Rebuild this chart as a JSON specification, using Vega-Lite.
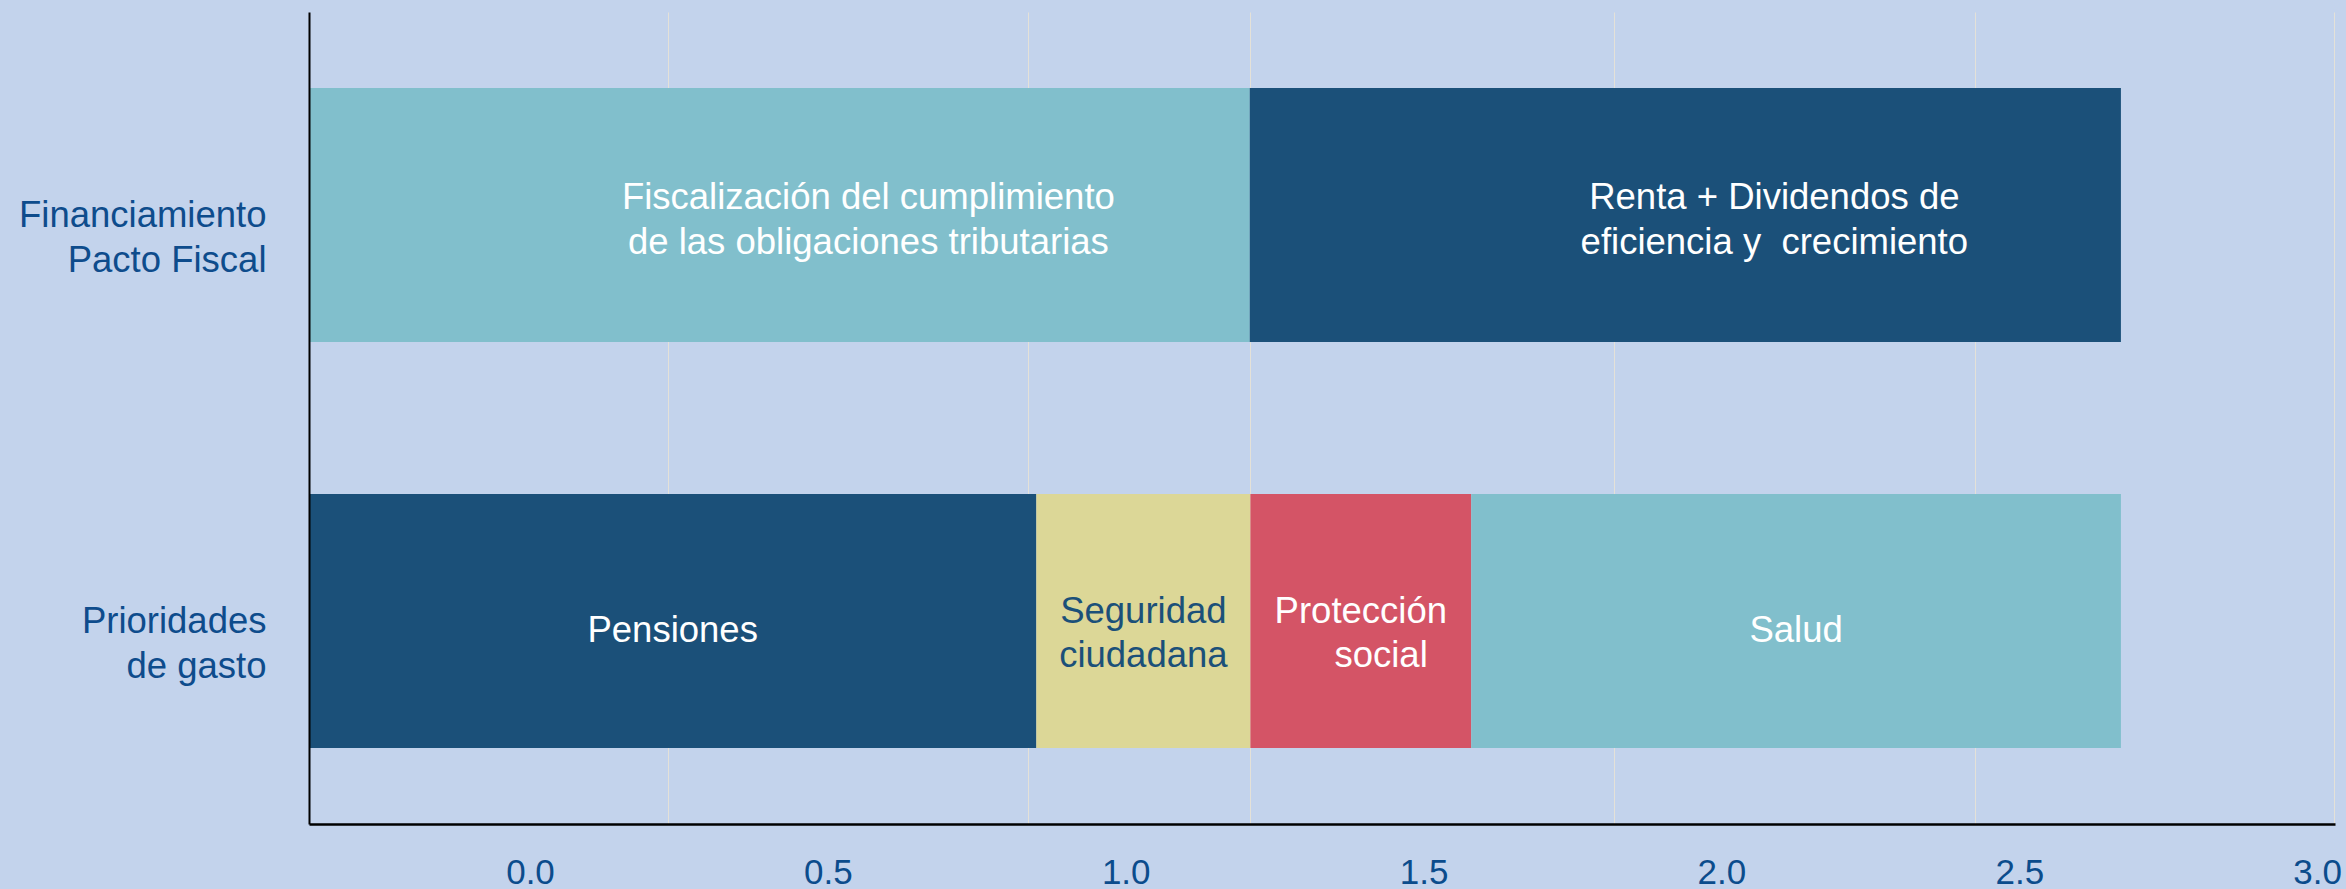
{
  "$schema": "https://vega.github.io/schema/vega-lite/v6.json",
  "width": 2026,
  "height": 812,
  "autosize": "none",
  "padding": {"left": 309, "top": 12, "right": 11, "bottom": 65},
  "background": "#C3D3EC",
  "config": {"view": {"stroke": null}, "font": "Liberation Sans"},
  "data": {
    "values": [
      {"grupo": "Financiamiento Pacto Fiscal", "componente": "Fiscalización", "valor": 1.393, "orden": 1, "etiqueta": ["Fiscalización del cumplimiento", "de las obligaciones tributarias"]},
      {"grupo": "Financiamiento Pacto Fiscal", "componente": "Renta + Dividendos", "valor": 1.29, "orden": 2, "etiqueta": ["Renta + Dividendos de", "eficiencia y\u00a0 crecimiento"]},
      {"grupo": "Prioridades de gasto", "componente": "Pensiones", "valor": 1.077, "orden": 1, "etiqueta": "Pensiones"},
      {"grupo": "Prioridades de gasto", "componente": "Seguridad ciudadana", "valor": 0.317, "orden": 2, "etiqueta": ["Seguridad", "ciudadana"]},
      {"grupo": "Prioridades de gasto", "componente": "Protección social", "valor": 0.327, "orden": 3, "etiqueta": ["Protección", "\u200b\u00a0\u00a0\u00a0\u00a0social"]},
      {"grupo": "Prioridades de gasto", "componente": "Salud", "valor": 0.962, "orden": 4, "etiqueta": "Salud"}
    ]
  },
  "encoding": {
    "y": {
      "field": "grupo",
      "type": "nominal",
      "sort": ["Financiamiento Pacto Fiscal", "Prioridades de gasto"],
      "scale": {"paddingInner": 0.374, "paddingOuter": 0.187},
      "axis": {
        "title": null,
        "domain": true,
        "domainColor": "#000000",
        "domainWidth": 2,
        "ticks": false,
        "tickSize": 0,
        "grid": false,
        "labelPadding": 43,
        "labelFontSize": 36.5,
        "labelFont": "Liberation Sans",
        "labelColor": "#0E4C8C",
        "labelAlign": "right",
        "labelBaseline": "middle",
        "labelLineHeight": 45,
        "labelOffset": 1,
        "labelLimit": 0,
        "labelExpr": "datum.value == 'Financiamiento Pacto Fiscal' ? ['Financiamiento', 'Pacto Fiscal'] : ['Prioridades', 'de gasto']",
        "zindex": 1
      }
    }
  },
  "layer": [
    {
      "layer": [
        {
          "mark": {"type": "bar"},
          "encoding": {
            "x": {
              "field": "valor",
              "type": "quantitative",
              "stack": "zero",
              "scale": {"domain": [0, 3], "nice": false},
              "axis": {
                "orient": "bottom",
                "title": null,
                "values": [0.532, 1.065, 1.393, 1.932, 2.467, 2.999],
                "grid": true,
                "gridColor": "#E4E1D8",
                "gridWidth": 1,
                "labels": false,
                "ticks": false,
                "tickSize": 0,
                "domain": true,
                "domainColor": "#000000",
                "domainWidth": 2.5
              }
            },
            "color": {
              "field": "componente",
              "type": "nominal",
              "scale": {
                "domain": ["Fiscalización", "Renta + Dividendos", "Pensiones", "Seguridad ciudadana", "Protección social", "Salud"],
                "range": ["#81BFCC", "#1B5079", "#1B5079", "#DCD797", "#D45466", "#81BFCC"]
              },
              "legend": null
            },
            "order": {"field": "orden", "type": "quantitative"}
          }
        },
        {
          "mark": {"type": "text", "dx": 89, "dy": -17, "fontSize": 36.5, "font": "Liberation Sans", "lineHeight": 45, "align": "center", "baseline": "middle", "color": "#FFFFFF"},
          "encoding": {
            "x": {"field": "valor", "type": "quantitative", "stack": "zero", "bandPosition": 0.5, "scale": {"domain": [0, 3], "nice": false}},
            "detail": {"field": "componente", "type": "nominal"},
            "order": {"field": "orden", "type": "quantitative"},
            "text": {"field": "etiqueta"},
            "opacity": {"condition": {"test": "datum.grupo == 'Financiamiento Pacto Fiscal'", "value": 1}, "value": 0}
          }
        },
        {
          "mark": {"type": "text", "dy": -9, "fontSize": 36.5, "font": "Liberation Sans", "lineHeight": 44, "align": "center", "baseline": "middle"},
          "encoding": {
            "x": {"field": "valor", "type": "quantitative", "stack": "zero", "bandPosition": 0.5, "scale": {"domain": [0, 3], "nice": false}},
            "detail": {"field": "componente", "type": "nominal"},
            "order": {"field": "orden", "type": "quantitative"},
            "text": {"field": "etiqueta"},
            "color": {"condition": {"test": "datum.componente == 'Seguridad ciudadana'", "value": "#1B5079"}, "value": "#FFFFFF"},
            "opacity": {"condition": {"test": "datum.grupo == 'Prioridades de gasto' && isArray(datum.etiqueta)", "value": 1}, "value": 0}
          }
        },
        {
          "mark": {"type": "text", "dy": 10, "fontSize": 36.5, "font": "Liberation Sans", "align": "center", "baseline": "middle", "color": "#FFFFFF"},
          "encoding": {
            "x": {"field": "valor", "type": "quantitative", "stack": "zero", "bandPosition": 0.5, "scale": {"domain": [0, 3], "nice": false}},
            "detail": {"field": "componente", "type": "nominal"},
            "order": {"field": "orden", "type": "quantitative"},
            "text": {"field": "etiqueta"},
            "opacity": {"condition": {"test": "datum.grupo == 'Prioridades de gasto' && !isArray(datum.etiqueta)", "value": 1}, "value": 0}
          }
        }
      ]
    },
    {
      "mark": {"type": "tick", "opacity": 0},
      "encoding": {
        "x": {
          "field": "valor",
          "type": "quantitative",
          "scale": {"domain": [-0.371, 3.03], "nice": false, "zero": false},
          "axis": {
            "orient": "bottom",
            "title": null,
            "values": [0, 0.5, 1, 1.5, 2, 2.5, 3],
            "format": ".1f",
            "grid": false,
            "domain": false,
            "ticks": false,
            "tickSize": 0,
            "labelPadding": 59,
            "labelBaseline": "alphabetic",
            "labelFontSize": 35,
            "labelFont": "Liberation Sans",
            "labelColor": "#0B4C8C",
            "labelFlush": false,
            "labelOverlap": false,
            "labelBound": false
          }
        }
      }
    }
  ],
  "resolve": {"scale": {"x": "independent"}, "axis": {"x": "independent"}}
}
